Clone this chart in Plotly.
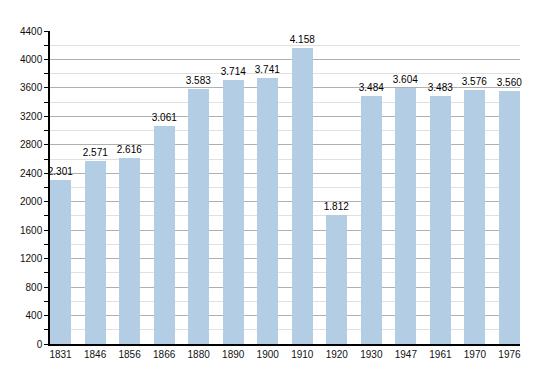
import plotly.graph_objects as go

years = ["1831", "1846", "1856", "1866", "1880", "1890", "1900", "1910", "1920", "1930", "1947", "1961", "1970", "1976"]
population = [2301, 2571, 2616, 3061, 3583, 3714, 3741, 4158, 1812, 3484, 3604, 3483, 3576, 3560]
labels = ["2.301", "2.571", "2.616", "3.061", "3.583", "3.714", "3.741", "4.158", "1.812", "3.484", "3.604", "3.483", "3.576", "3.560"]
y_ticks = list(range(0, 4401, 400))

pos = list(range(len(years)))
w = 0.61

fig = go.Figure(go.Bar(
    x=pos, y=population, width=w,
    marker=dict(color="#b3cde5", line=dict(width=0)),
    text=labels, textposition="outside", cliponaxis=False, constraintext="none",
    textfont=dict(family="Liberation Sans, Arial", size=10, color="#000"),
))

fig.update_layout(
    width=542, height=365,
    margin=dict(l=42, r=30, t=23, b=29, autoexpand=False),
    plot_bgcolor="white", paper_bgcolor="white",
    showlegend=False,
    font=dict(family="Liberation Sans, Arial", size=10, color="#111"),
    xaxis=dict(
        tickmode="array", tickvals=pos, ticktext=years,
        range=[-w / 2, len(years) - 1 + w / 2],
        showgrid=False, showline=True, linecolor="#000", linewidth=1.5,
        ticks="", tickfont=dict(size=10), zeroline=False, automargin=False,
    ),
    yaxis=dict(
        range=[0, 4400], tickvals=y_ticks,
        showgrid=True, gridcolor="#b0b0b0", gridwidth=1,
        showline=True, linecolor="#000", linewidth=1.5,
        ticks="outside", ticklen=4, tickcolor="#000",
        tickfont=dict(size=10), zeroline=False, automargin=False,
        minor=dict(dtick=200, showgrid=True, gridcolor="#e0e0e0", ticks="outside", ticklen=4, tickcolor="#000"),
    ),
    bargap=0,
)

fig.write_html("out.html")
